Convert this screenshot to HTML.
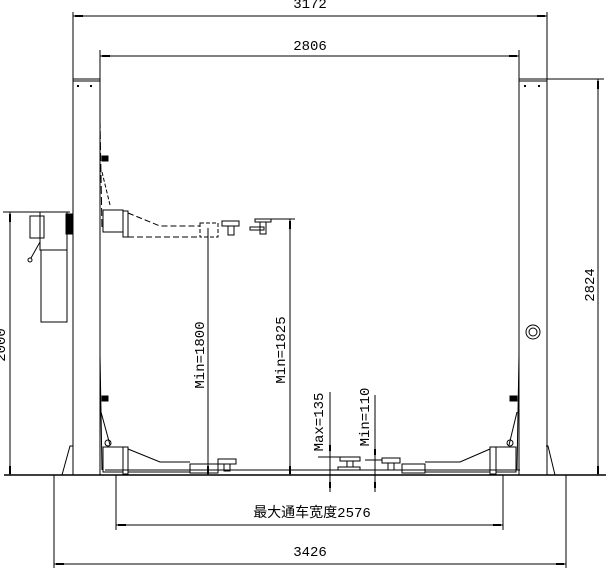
<!DOCTYPE html>
<html><head><meta charset="utf-8"><style>
html,body{margin:0;padding:0;background:#fff}
svg{display:block}
text{font-family:"Liberation Mono","Noto Sans CJK SC",monospace;fill:#000}
</style></head><body>
<svg width="611" height="572" viewBox="0 0 611 572" xmlns="http://www.w3.org/2000/svg">
<g stroke="#000" stroke-width="1" fill="none">
<!-- top dims -->
<line x1="73" y1="12" x2="73" y2="80"/><line x1="547" y1="12" x2="547" y2="80"/>
<line x1="73" y1="16" x2="547" y2="16"/>
<line x1="100" y1="50" x2="100" y2="80"/><line x1="519" y1="50" x2="519" y2="80"/>
<line x1="100" y1="56" x2="519" y2="56"/>
<!-- columns -->
<rect x="73" y="79" width="27" height="396"/>
<rect x="519" y="79" width="28" height="396"/>
<line x1="73" y1="81" x2="100" y2="81"/><line x1="519" y1="81" x2="547" y2="81"/>
<line x1="547" y1="79" x2="604" y2="79"/>
<!-- 2824 -->
<line x1="598" y1="79" x2="598" y2="475"/>
<!-- left dim -->
<line x1="3" y1="212" x2="70" y2="212"/>
<line x1="10" y1="212" x2="10" y2="475"/>
<!-- power unit -->
<rect x="40" y="212" width="27" height="38"/>
<rect x="30" y="216" width="14" height="22"/>
<rect x="41" y="250" width="26" height="72"/>
<line x1="40" y1="242" x2="31" y2="258"/><circle cx="30" cy="260" r="2"/>
<rect x="66" y="214" width="7" height="20" fill="#000"/>
<!-- floor & base -->
<line x1="4" y1="475" x2="606" y2="475" stroke-width="1.5"/>
<line x1="105" y1="470" x2="520" y2="470"/>
<polyline points="54,475 54,568"/><polyline points="566,475 566,568"/>
<line x1="54" y1="564" x2="566" y2="564"/>
<line x1="116" y1="475" x2="116" y2="530"/><line x1="503" y1="475" x2="503" y2="530"/>
<line x1="116" y1="525" x2="503" y2="525"/>
<!-- column feet -->
<polyline points="62,475 70,446 73,446"/><polyline points="555,475 548,446 546,446"/>
<!-- left side carriage rails -->
<line x1="100" y1="120" x2="102" y2="230" stroke-dasharray="8,3"/>
<line x1="100" y1="355" x2="102" y2="470"/>
<rect x="102" y="156" width="6" height="5" fill="#000"/>
<rect x="102" y="396" width="6" height="5" fill="#000"/>
<line x1="519" y1="355" x2="517" y2="470"/>
<rect x="510" y="396" width="7" height="5" fill="#000"/>
<!-- upper left arm (dashed) -->
<line x1="102" y1="172" x2="110" y2="205" stroke-dasharray="4,2"/>
<rect x="103" y="210" width="20" height="22"/>
<rect x="123" y="211" width="5" height="26"/>
<polyline points="128,213 160,226 200,226" stroke-dasharray="6,3"/>
<line x1="128" y1="237" x2="200" y2="237" stroke-dasharray="6,3"/>
<rect x="200" y="223" width="18" height="14" stroke-dasharray="4,2"/>
<rect x="222" y="221" width="17" height="5"/><rect x="228" y="226" width="6" height="9"/>
<rect x="255" y="219" width="16" height="3"/><rect x="260" y="222" width="6" height="12"/><rect x="250" y="227" width="14" height="3"/>
<line x1="270" y1="219" x2="295" y2="219"/>
<!-- lower left arm -->
<line x1="101" y1="412" x2="110" y2="445"/>
<circle cx="108" cy="443" r="3"/>
<rect x="103" y="447" width="20" height="25"/>
<rect x="123" y="447" width="5" height="27"/>
<polyline points="128,449 160,462 190,462"/>
<line x1="128" y1="472" x2="190" y2="472"/>
<rect x="190" y="464" width="28" height="9"/>
<rect x="218" y="459" width="18" height="5"/><rect x="224" y="464" width="6" height="7"/>
<!-- lower right arm -->
<line x1="517" y1="412" x2="509" y2="445"/>
<circle cx="510" cy="443" r="3"/>
<rect x="496" y="447" width="20" height="25"/>
<rect x="490" y="447" width="6" height="27"/>
<polyline points="490,449 460,462 425,462"/>
<line x1="490" y1="472" x2="425" y2="472"/>
<rect x="402" y="464" width="23" height="9"/>
<rect x="382" y="458" width="18" height="5"/><rect x="388" y="463" width="6" height="7"/>
<rect x="340" y="457" width="20" height="4"/><rect x="347" y="461" width="6" height="6"/><rect x="338" y="467" width="22" height="3"/>
<!-- right column bolt -->
<circle cx="533" cy="332" r="7"/><circle cx="533" cy="332" r="4"/>
<!-- vertical dims -->
<line x1="208" y1="228" x2="208" y2="475"/>
<line x1="290" y1="219" x2="290" y2="475"/>
<line x1="330" y1="392" x2="330" y2="492"/>
<line x1="375" y1="395" x2="375" y2="492"/>
<line x1="318" y1="457" x2="340" y2="457"/>
<line x1="365" y1="460" x2="382" y2="460"/>
</g>
<g fill="#000">
<rect x="77" y="85" width="2" height="2"/><rect x="90" y="85" width="2" height="2"/>
<rect x="524" y="85" width="2" height="2"/><rect x="538" y="85" width="2" height="2"/>
<rect x="75" y="15" width="8" height="2"/><rect x="537" y="15" width="8" height="2"/>
<rect x="102" y="55" width="8" height="2"/><rect x="509" y="55" width="8" height="2"/>
<rect x="56" y="563" width="8" height="2"/><rect x="556" y="563" width="8" height="2"/>
<rect x="118" y="524" width="8" height="2"/><rect x="493" y="524" width="8" height="2"/>
<rect x="597" y="81" width="2" height="8"/><rect x="597" y="466" width="2" height="8"/>
<rect x="9" y="214" width="2" height="8"/><rect x="9" y="466" width="2" height="8"/>
<rect x="207" y="466" width="2" height="8"/><rect x="289" y="221" width="2" height="8"/><rect x="289" y="466" width="2" height="8"/>
<rect x="329" y="445" width="2" height="6"/><rect x="329" y="482" width="2" height="6"/>
<rect x="374" y="449" width="2" height="6"/><rect x="374" y="482" width="2" height="6"/>
</g>
<g font-size="14">
<text x="310" y="8" text-anchor="middle">3172</text>
<text x="310" y="50" text-anchor="middle">2806</text>
<text x="310" y="556" text-anchor="middle">3426</text>
<text x="312" y="517" text-anchor="middle">最大通车宽度2576</text>
<text transform="translate(594,285) rotate(-90)" text-anchor="middle">2824</text>
<text transform="translate(5,345) rotate(-90)" text-anchor="middle">2000</text>
<text transform="translate(204,355) rotate(-90)" text-anchor="middle">Min=1800</text>
<text transform="translate(285,350) rotate(-90)" text-anchor="middle">Min=1825</text>
<text transform="translate(323,422) rotate(-90)" text-anchor="middle">Max=135</text>
<text transform="translate(369,417) rotate(-90)" text-anchor="middle">Min=110</text>
</g>
</svg>
</body></html>
